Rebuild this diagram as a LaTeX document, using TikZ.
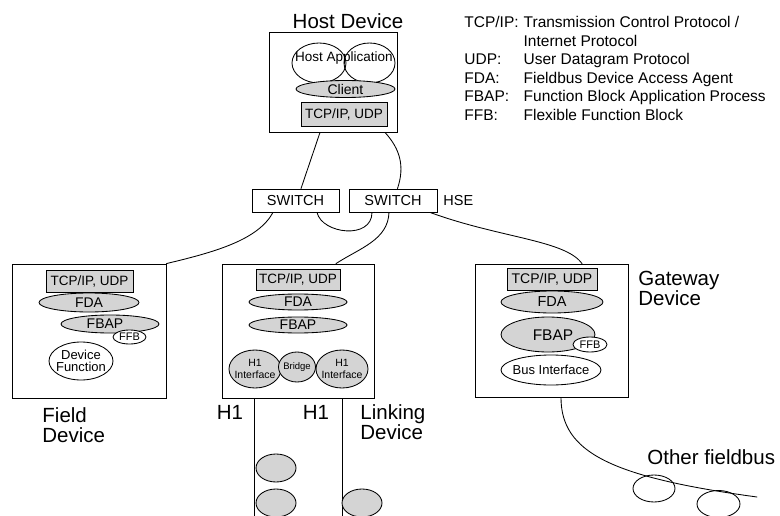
\documentclass[tikz,border=0pt]{standalone}
\usepackage{fontspec}
\setmainfont{Liberation Sans}
\usetikzlibrary{shapes.geometric}
\definecolor{layergray}{RGB}{212,212,212}

\begin{document}
\begin{tikzpicture}[x=1pt, y=-1pt, line width=0.85pt,
  sz/.style 2 args={minimum width={2*#1}, minimum height={2*#2}},
  dev/.style={draw, rectangle, inner sep=0pt, fill=white},
  proto/.style={draw, rectangle, fill=layergray, inner sep=0pt,
    font=\fontsize{13.5}{14}\selectfont},
  layer/.style={draw, ellipse, fill=layergray, inner sep=0pt},
  plain/.style={draw, ellipse, fill=white, inner sep=0pt},
  ring/.style={draw, ellipse, inner sep=0pt},
  txt/.style={inner sep=0pt, font=\fontsize{14}{14}\selectfont},
  small/.style={inner sep=0pt, align=center, font=\fontsize{10.5}{12.5}\selectfont},
  big/.style={inner sep=0pt, align=left, font=\fontsize{20.5}{20}\selectfont},
  switchbox/.style={dev, minimum height=23, font=\fontsize{14.5}{15}\selectfont},
  link/.style={line cap=round}]

\useasboundingbox (0,0) rectangle (780,516);
\clip (0,0) rectangle (780,516);

% ---------- legend ----------
\node[inner sep=0pt, anchor=north west, font=\fontsize{15.5}{18.6}\selectfont] (legend) at (464,14) {%
  \begin{tabular}{@{}l@{\hspace{5pt}}l@{}}
  TCP/IP: & Transmission Control Protocol /\\
          & Internet Protocol\\
  UDP:    & User Datagram Protocol\\
  FDA:    & Fieldbus Device Access Agent\\
  FBAP:   & Function Block Application Process\\
  FFB:    & Flexible Function Block
  \end{tabular}};

% ---------- host device ----------
\node[big, align=center] (hostlbl) at (348,21) {Host Device};
\node[dev, minimum width=128, minimum height=100] (host) at (333,82) {};
\node[ring, sz={27}{20}] (appL) at (319,63) {};
\node[ring, sz={25.5}{20}] (appR) at (369.5,63) {};
\node[txt, font=\fontsize{13.5}{14}\selectfont] (apptxt) at (344,58) {Host Application};
\node[layer, sz={49.5}{8.5}] (client) at (345.5,89) {};
\node[txt] at (client) {Client};
\node[proto, minimum width=86, minimum height=24] (hostnet) at (344,114.5) {TCP/IP, UDP};

% ---------- switches ----------
\node[switchbox, minimum width=87] (sw1) at (295.5,200.5) {SWITCH};
\node[switchbox, minimum width=88] (sw2) at (393,200.5) {SWITCH};
\node[inner sep=0pt, anchor=west, font=\fontsize{14.5}{15}\selectfont] (hse) at (443,200.5) {HSE};

% ---------- field device ----------
\node[dev, minimum width=154, minimum height=134] (field) at (89,331) {};
\node[proto, minimum width=87, minimum height=22] (fdnet) at (89.5,281) {TCP/IP, UDP};
\node[layer, sz={50}{9.5}] (fdfda) at (89,302.5) {};
\node[txt] at (fdfda) {FDA};
\node[layer, sz={49}{9}] (fdfbap) at (110,324) {};
\node[txt] at (105,324) {FBAP};
\node[plain, sz={16.5}{7}] (fdffb) at (129.5,337) {};
\node[txt, font=\fontsize{11}{12}\selectfont] at (fdffb) {FFB};
\node[plain, sz={32}{19}] (fdfun) at (81,361) {};
\node[small, font=\fontsize{13}{11.5}\selectfont] at (fdfun) {Device\\Function};
\node[big, anchor=west] (fieldlbl) at (42,425) {Field\\Device};

% ---------- linking device ----------
\node[dev, minimum width=152, minimum height=134] (linkdev) at (298,331) {};
\node[proto, minimum width=84, minimum height=21] (ldnet) at (298,279.5) {TCP/IP, UDP};
\node[layer, sz={49}{8}] (ldfda) at (298,302) {};
\node[txt] at (ldfda) {FDA};
\node[layer, sz={49}{8}] (ldfbap) at (298,325) {};
\node[txt] at (ldfbap) {FBAP};
\node[layer, sz={26}{19}] (ldifa) at (255,369) {};
\node[small] at (ldifa) {H1\\Interface};
\node[layer, sz={18.5}{15}] (ldbridge) at (297,367) {};
\node[small, font=\fontsize{9.5}{10}\selectfont] at (ldbridge) {Bridge};
\node[layer, sz={26}{19}] (ldifb) at (342,369) {};
\node[small] at (ldifb) {H1\\Interface};
\node[big, anchor=center] (h1lblA) at (230,412) {H1};
\node[big, anchor=center] (h1lblB) at (316,412) {H1};
\node[big, anchor=west] (linklbl) at (360,422.5) {Linking\\Device};

% H1 segments and their devices
\coordinate (busAend) at (254,516);
\coordinate (busBend) at (342,516);
\draw[link] ([xshift=-44pt]linkdev.south) -- (busAend);
\draw[link] ([xshift=44pt]linkdev.south) -- (busBend);
\node[layer, sz={20}{14}] (h1devA) at (276,468) {};
\node[layer, sz={20}{14}] (h1devB) at (276,503) {};
\node[layer, sz={20}{14}] (h1devC) at (362,503) {};

% ---------- gateway device ----------
\node[dev, minimum width=153, minimum height=133] (gate) at (551.5,330.5) {};
\node[proto, minimum width=90, minimum height=22,
      font=\fontsize{14}{15}\selectfont] (gwnet) at (552,279) {TCP/IP, UDP};
\node[layer, sz={51}{11}] (gwfda) at (552,302) {};
\node[txt, font=\fontsize{14.5}{15}\selectfont] at (gwfda) {FDA};
\node[layer, sz={47}{17.5}] (gwfbap) at (548,334.5) {};
\node[txt, font=\fontsize{15.5}{16}\selectfont] at (553,335) {FBAP};
\node[plain, sz={17}{7.5}] (gwffb) at (590,344.5) {};
\node[txt, font=\fontsize{11}{12}\selectfont] at (gwffb) {FFB};
\node[plain, sz={50}{15}] (gwbus) at (551,370) {};
\node[txt, font=\fontsize{13}{13}\selectfont] at (gwbus) {Bus Interface};
\node[big, anchor=west] (gatelbl) at (638,288) {Gateway\\Device};

% other fieldbus
\coordinate (obend) at (757,497);
\draw[link] ([xshift=9.5pt]gate.south) .. controls (561,452) and (610,477) .. (obend);
\node[ring, sz={21}{13.5}] (obdevA) at (654,488.5) {};
\node[ring, sz={21.5}{13.5}] (obdevB) at (718.5,504) {};
\node[big, anchor=west] (oblbl) at (647,457) {Other fieldbus};

% ---------- HSE connections ----------
\draw[link] ([xshift=-13pt]host.south) -- ([xshift=5.5pt]sw1.north);
\draw[link] ([xshift=52pt]host.south) .. controls (400,149) and (405,166) .. ([xshift=4.5pt]sw2.north);
\draw[link] ([xshift=-22.5pt]sw1.south) .. controls (258,240) and (215,252) .. (field.north east);
\draw[link] ([xshift=21.5pt]sw1.south) .. controls (322,234) and (372,240) .. ([xshift=-21pt]sw2.south);
\draw[link] ([xshift=-4pt]sw2.south) .. controls (388,240) and (360,248) .. ([xshift=38pt]linkdev.north);
\draw[link] ([xshift=37pt]sw2.south) .. controls (500,238) and (565,240) .. ([xshift=30.5pt]gate.north);
\end{tikzpicture}
\end{document}
